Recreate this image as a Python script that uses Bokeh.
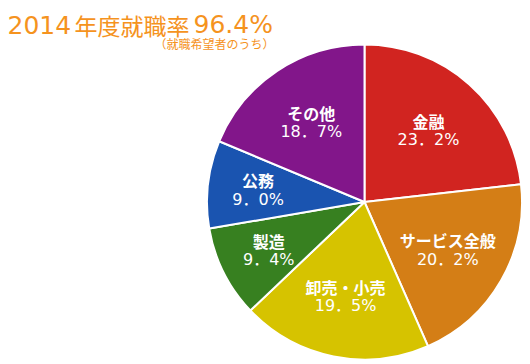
import math
from bokeh.plotting import figure
from bokeh.models import Range1d, ColumnDataSource
from bokeh.core.properties import value
from bokeh.embed import file_html
from bokeh.resources import INLINE

# ---- data ----
categories = ["金融", "サービス全般", "卸売・小売", "製造", "公務", "その他"]
shares = [23.2, 20.2, 19.5, 9.4, 9.0, 18.7]
colors = ["#d12420", "#d47e16", "#d6c300", "#378020", "#1a54b0", "#82168a"]
title_year = "2014"
title_mid = "年度就職率"
title_rate = "96.4%"
subtitle = "（就職希望者のうち）"

W, H = 530, 364
p = figure(width=W, height=H, output_backend="svg", toolbar_location=None,
           x_range=Range1d(0, W), y_range=Range1d(0, H),
           min_border=0, outline_line_color=None)
p.axis.visible = False
p.grid.visible = False
p.background_fill_color = "white"
p.border_fill_color = "white"

def Y(yp):
    return H - yp

cx, cy, R = 364, Y(201.5), 157.5
total = sum(shares)

starts, ends, lx, ly = [], [], [], []
cum = 0.0
for s in shares:
    a0 = cum / total
    cum += s
    a1 = cum / total
    # clockwise from 12 o'clock
    starts.append(math.pi / 2 - a1 * 2 * math.pi)
    ends.append(math.pi / 2 - a0 * 2 * math.pi)
    mid = math.pi / 2 - (a0 + a1) / 2 * 2 * math.pi
    r = R * (0.68 if s < 10 else 0.61)
    lx.append(cx + r * math.cos(mid))
    ly.append(cy + r * math.sin(mid))

src = ColumnDataSource(dict(start=starts, end=ends, color=colors,
                            cat=categories,
                            val=[f"{v:.1f}".replace(".", "．") + "%" for v in shares],
                            lx=lx, ly_c=[y + 9.5 for y in ly], ly_v=[y - 9.5 for y in ly]))

p.wedge(x=cx, y=cy, radius=R, start_angle="start", end_angle="end",
        fill_color="color", line_color="white", line_width=2, source=src)

p.text(x="lx", y="ly_c", text="cat", source=src, text_color="white",
       text_font=value("Noto Sans CJK JP"), text_font_style="bold",
       text_font_size="16px", text_align="center", text_baseline="middle")
p.text(x="lx", y="ly_v", text="val", source=src, text_color="white",
       text_font=value("'DejaVu Sans', 'Noto Sans CJK JP'"), text_font_size="16px",
       text_align="center", text_baseline="middle")

orange = "#f5931e"
p.text(x=[7], y=[Y(24)], text=[title_year], text_color=orange,
       text_font=value("DejaVu Sans"), text_font_size="25px",
       text_align="left", text_baseline="alphabetic")
p.text(x=[74], y=[Y(24)], text=[title_mid], text_color=orange,
       text_font=value("Noto Sans CJK JP"), text_font_size="23px",
       text_align="left", text_baseline="alphabetic")
p.text(x=[193], y=[Y(24)], text=[title_rate], text_color=orange,
       text_font=value("DejaVu Sans"), text_font_size="25px",
       text_align="left", text_baseline="alphabetic")
p.text(x=[274], y=[Y(43)], text=[subtitle], text_color=orange,
       text_font=value("Noto Sans CJK JP"), text_font_size="12px",
       text_align="right", text_baseline="middle")

open("out.html", "w").write(file_html(p, INLINE))
